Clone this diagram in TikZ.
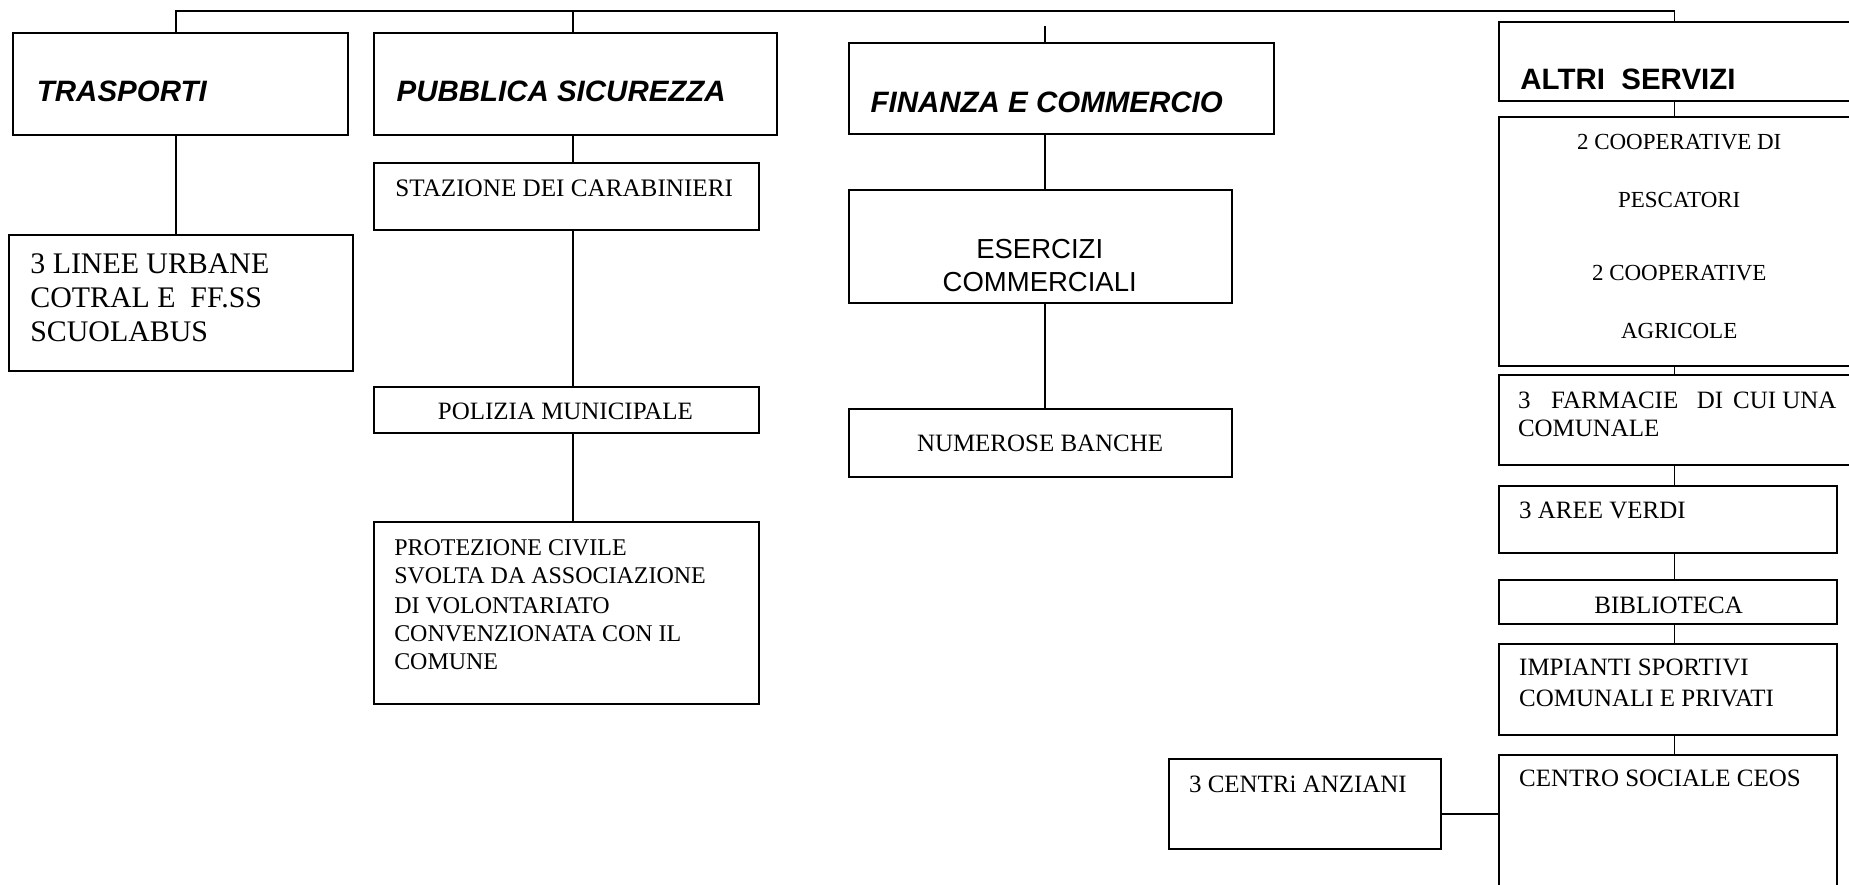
\documentclass[tikz,border=0pt]{standalone}
\usepackage{fontspec}
\setmainfont{Liberation Serif}
\setsansfont{Liberation Sans}
\newcommand\mkbox[5]{\node[box, minimum width={(#4-#2)*0.6pt}, minimum height={(#5-#3)*0.6pt}] (#1) at (#2,#3) {};}
\tikzset{
  box/.style={draw, line width=1pt, inner sep=0pt, outer sep=0pt, anchor=north west, rectangle},
  conn/.style={line width=1pt},
  ttl/.style={inner sep=0pt, anchor=base west, font=\sffamily\bfseries\itshape\fontsize{15}{18}\selectfont},
  ttlup/.style={inner sep=0pt, anchor=base west, font=\sffamily\bfseries\fontsize{15}{18}\selectfont},
  lt/.style={inner sep=0pt, anchor=base west, font=\fontsize{#1}{#1}\selectfont},
  ct/.style={inner sep=0pt, anchor=base, font=\fontsize{#1}{#1}\selectfont},
  sct/.style={inner sep=0pt, anchor=base, font=\sffamily\fontsize{#1}{#1}\selectfont},
}
\begin{document}
\begin{tikzpicture}[x=0.6pt, y=-0.6pt]
\clip (0,0) rectangle (1568,749.7);
% boxes
\mkbox{tras}{11.4}{28.3}{295.5}{114.5}
\mkbox{linee}{8}{199}{299}{314.6}
\mkbox{pub}{317.3}{28.3}{658.6}{114.5}
\mkbox{staz}{317.3}{138}{643.4}{195}
\mkbox{pol}{317.3}{328}{643.4}{367}
\mkbox{prot}{317.3}{443}{643.4}{597}
\mkbox{fin}{719.7}{36.8}{1080}{113.7}
\mkbox{eser}{719.7}{161}{1045}{256.7}
\mkbox{banc}{719.7}{347}{1045}{404.3}
\mkbox{altri}{1271}{19}{1580}{85.4}
\mkbox{coop}{1271}{99.5}{1580}{310}
\mkbox{farm}{1271}{318}{1580}{394.5}
\mkbox{aree}{1271}{412}{1558}{469}
\mkbox{bibl}{1271}{492}{1558}{529}
\mkbox{imp}{1271}{546}{1558}{623}
\mkbox{ceos}{1271}{640}{1558}{770}
\mkbox{anz}{991.5}{644}{1221.6}{720}
% connectors
\coordinate (t1) at (149.6,9.3);
\coordinate (t2) at (485.8,9.3);
\coordinate (t3) at (885.8,22);
\coordinate (t4) at (1420,9.3);
\coordinate (h) at (0,690);
\draw[conn] (tras.north -| t1) -- (t1) -- (t4) -- (altri.north -| t4);
\draw[conn] (t2) -- (pub.north -| t2);
\draw[conn] (t3) -- (fin.north -| t3);
\draw[conn] (tras.south -| t1) -- (linee.north -| t1);
\draw[conn] (pub.south -| t2) -- (staz.north -| t2);
\draw[conn] (staz.south -| t2) -- (pol.north -| t2);
\draw[conn] (pol.south -| t2) -- (prot.north -| t2);
\draw[conn] (fin.south -| t3) -- (eser.north -| t3);
\draw[conn] (eser.south -| t3) -- (banc.north -| t3);
\draw[conn] (altri.south -| t4) -- (coop.north -| t4);
\draw[conn] (coop.south -| t4) -- (farm.north -| t4);
\draw[conn] (farm.south -| t4) -- (aree.north -| t4);
\draw[conn] (aree.south -| t4) -- (bibl.north -| t4);
\draw[conn] (bibl.south -| t4) -- (imp.north -| t4);
\draw[conn] (imp.south -| t4) -- (ceos.north -| t4);
\draw[conn] (anz.east |- h) -- (ceos.west |- h);
% titles
\node[ttl] (trasT) at (31,86) {TRASPORTI};
\node[ttl] (pubT) at (336,86) {PUBBLICA SICUREZZA};
\node[ttl] (finT) at (738,95) {FINANZA E COMMERCIO};
\node[ttlup] (altriT) at (1289,76) {ALTRI\ \ SERVIZI};
% trasporti
\node[lt=15.2] (lin1) at (25.4,232) {3 LINEE URBANE};
\node[lt=15.2] (lin2) at (25.4,261) {COTRAL E\ \ FF.SS};
\node[lt=15.2] (lin3) at (25.4,290) {SCUOLABUS};
% pubblica sicurezza
\node[lt=12.8] (stazT) at (335,167) {STAZIONE DEI CARABINIERI};
\node[ct=12.7] (polT) at (479.5,356) {POLIZIA MUNICIPALE};
\node[lt=12.2] (pr1) at (334,471) {PROTEZIONE CIVILE};
\node[lt=12.2] (pr2) at (334,495) {SVOLTA DA ASSOCIAZIONE};
\node[lt=12.2] (pr3) at (334,520) {DI VOLONTARIATO};
\node[lt=12.2] (pr4) at (334,544) {CONVENZIONATA CON IL};
\node[lt=12.2] (pr5) at (334,568) {COMUNE};
% finanza
\node[sct=14] (es1) at (881.7,219) {ESERCIZI};
\node[sct=14] (es2) at (881.7,247) {COMMERCIALI};
\node[ct=12.7] (bancT) at (882,383) {NUMEROSE BANCHE};
% altri servizi
\node[ct=11.7] (co1) at (1424,127) {2 COOPERATIVE DI};
\node[ct=11.7] (co2) at (1424,176) {PESCATORI};
\node[ct=11.7] (co3) at (1424,238) {2 COOPERATIVE};
\node[ct=11.7] (co4) at (1424,287) {AGRICOLE};
\node[lt=12.7] (fa1) at (1287,346) {3\hspace{10.5pt}FARMACIE\hspace{9.5pt}DI\hspace{5pt}CUI UNA};
\node[lt=12.7] (fa2) at (1287,370) {COMUNALE};
\node[lt=12.7] (areeT) at (1288,440) {3 AREE VERDI};
\node[ct=12.7] (biblT) at (1415,520) {BIBLIOTECA};
\node[lt=12.7] (im1) at (1288,573) {IMPIANTI SPORTIVI};
\node[lt=12.7] (im2) at (1288,599) {COMUNALI E PRIVATI};
\node[lt=12.7] (ceosT) at (1288,667) {CENTRO SOCIALE CEOS};
\node[lt=12.7] (anzT) at (1008,672) {3 CENTRi ANZIANI};
\end{tikzpicture}
\end{document}
